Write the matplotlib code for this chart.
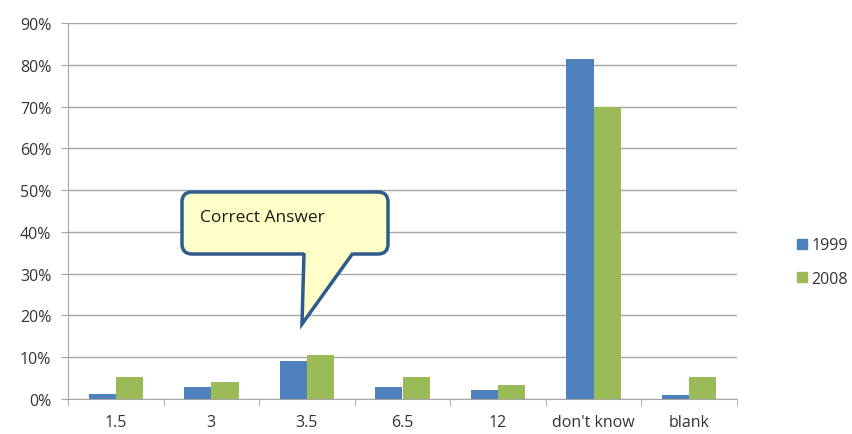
import matplotlib.pyplot as plt
import numpy as np
from matplotlib.patches import FancyBboxPatch, Polygon
from matplotlib.lines import Line2D

categories = ['1.5', '3', '3.5', '6.5', '12', "don't know", 'blank']
series_names = ['1999', '2008']
values_1999 = [1.2, 2.9, 9.2, 2.9, 2.1, 81.3, 1.0]
values_2008 = [5.3, 4.0, 10.5, 5.3, 3.3, 69.8, 5.3]
yticks = [0, 10, 20, 30, 40, 50, 60, 70, 80, 90]

blue = '#4F81BD'
green = '#9BBB59'
grid_c = '#A6A6A6'

plt.rcParams['font.family'] = ['Open Sans', 'DejaVu Sans']

fig = plt.figure(figsize=(8.52, 4.35), dpi=100)
ax = fig.add_axes([68 / 852, 35 / 435, (737 - 68) / 852, (400 - 24) / 435])

x = np.arange(len(categories))
w = 0.285
ax.bar(x - w / 2, values_1999, w, color=blue, zorder=3, label=series_names[0])
ax.bar(x + w / 2, values_2008, w, color=green, zorder=3, label=series_names[1])

ax.set_xlim(-0.5, len(categories) - 0.5)
ax.set_ylim(0, 90)
ax.set_yticks(yticks)
ax.set_yticklabels([f'{t}%' for t in yticks])
ax.set_xticks(x)
ax.set_xticklabels(categories)
ax.set_xticks(np.arange(len(categories) + 1) - 0.5, minor=True)
ax.yaxis.grid(True, color=grid_c, lw=1.0, zorder=0)
ax.tick_params(axis='x', which='major', length=0, pad=11, labelsize=11.5, colors='#333333')
ax.tick_params(axis='x', which='minor', length=5, color=grid_c, direction='out')
ax.tick_params(axis='y', length=5, color=grid_c, labelsize=11.5, colors='#333333', pad=7)
for s in ['top', 'right']:
    ax.spines[s].set_visible(False)
for s in ['left', 'bottom']:
    ax.spines[s].set_color(grid_c)

# legend
handles = [Line2D([], [], marker='s', ls='', color=blue, markersize=7.5),
           Line2D([], [], marker='s', ls='', color=green, markersize=7.5)]
fig.legend(handles, series_names, loc='center left', bbox_to_anchor=(780 / 852, 1 - 263 / 435),
           frameon=False, fontsize=11.5, handletextpad=0.05, labelspacing=1.1, handlelength=1.0,
           labelcolor='#333333')

# callout
tr = fig.dpi_scale_trans


def P(px, py):
    return (px / 100, (435 - py) / 100)


fill_c = '#FFFFC8'
edge_c = '#2E5B8C'
x0, y0 = P(182, 255)
x1, y1 = P(388, 193)
box = FancyBboxPatch((x0, y0), x1 - x0, y1 - y0, boxstyle='round,pad=0,rounding_size=0.1',
                     transform=tr, facecolor=fill_c, edgecolor=edge_c, lw=2.5, zorder=5)
fig.patches.append(box)
tail = Polygon([P(304, 252), P(304, 255), P(302, 325), P(353, 255), P(353, 252)],
               closed=True, transform=tr, facecolor=fill_c, edgecolor='none', zorder=6)
fig.patches.append(tail)
tx, ty = zip(P(304, 254), P(302, 325), P(353, 254))
fig.lines.append(Line2D(tx, ty, transform=tr, color=edge_c, lw=2.5, zorder=7,
                        solid_joinstyle='miter', solid_capstyle='butt'))
fig.text(200 / 852, 1 - 218 / 435, 'Correct Answer', fontsize=12.5, color='#1a1a1a',
         va='center', ha='left', zorder=8)

fig.savefig('out.png', dpi=100)
